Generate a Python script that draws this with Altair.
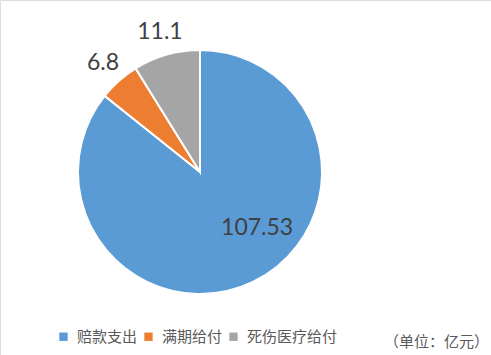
import altair as alt
import pandas as pd

categories = ["赔款支出", "满期给付", "死伤医疗给付"]
values = [107.53, 6.8, 11.1]
labels = ["107.53", "6.8", "11.1"]
colors = ["#5B9BD5", "#ED7D31", "#A5A5A5"]
unit_note = "（单位：亿元）"

df = pd.DataFrame({
    "category": categories,
    "value": values,
    "label": labels,
    "order": list(range(len(categories))),
})

CX, CY, R = 200, 172, 122

color = alt.Color(
    "category:N",
    scale=alt.Scale(domain=categories, range=colors),
    sort=categories,
    legend=alt.Legend(
        title=None,
        orient="none",
        direction="horizontal",
        legendX=56,
        legendY=329,
        symbolType="square",
        symbolSize=70,
        symbolStrokeWidth=0,
        labelFont="Noto Sans CJK SC",
        labelFontSize=15,
        labelColor="#595959",
        labelOffset=6,
        columnPadding=3,
    ),
)

arcs = alt.Chart(df).mark_arc(outerRadius=R, stroke="white", strokeWidth=2).encode(
    theta=alt.Theta("value:Q", stack=True),
    order=alt.Order("order:Q"),
    color=color,
    x=alt.value(CX),
    y=alt.value(CY),
)

# label angles: middle of each slice as fraction of the whole
lab_base = alt.Chart(df).transform_window(
    cum="sum(value)", sort=[alt.SortField("order")], frame=[None, 0]
).transform_joinaggregate(total="sum(value)").transform_calculate(
    mid="(datum.cum - datum.value / 2) / datum.total"
).encode(
    theta=alt.Theta("mid:Q", stack=None, scale=alt.Scale(domain=[0, 1], range=[0, 6.283185307179586])),
    text="label:N",
    x=alt.value(CX),
    y=alt.value(CY),
)

txt_style = dict(font="Lato", fontSize=23, color="#404040", align="center", baseline="middle")

lab_in = lab_base.mark_text(radius=81, dx=22, dy=-17, **txt_style).transform_filter(alt.datum.order == 0)
lab_out = lab_base.mark_text(radius=146, **txt_style).transform_filter(alt.datum.order > 0)

note = alt.Chart(pd.DataFrame({"t": [unit_note]})).mark_text(
    font="Noto Sans CJK SC", fontSize=15, color="#595959", align="left", baseline="middle"
).encode(text="t:N", x=alt.value(384), y=alt.value(342))

chart = alt.layer(arcs, lab_in, lab_out, note).resolve_scale(theta="independent").properties(
    width=491, height=355, autosize=alt.AutoSizeParams(type="none"), padding=0
).configure_view(stroke=None).configure(background="white")

chart.save("out.html", embed_options={"renderer": "svg", "actions": False})
